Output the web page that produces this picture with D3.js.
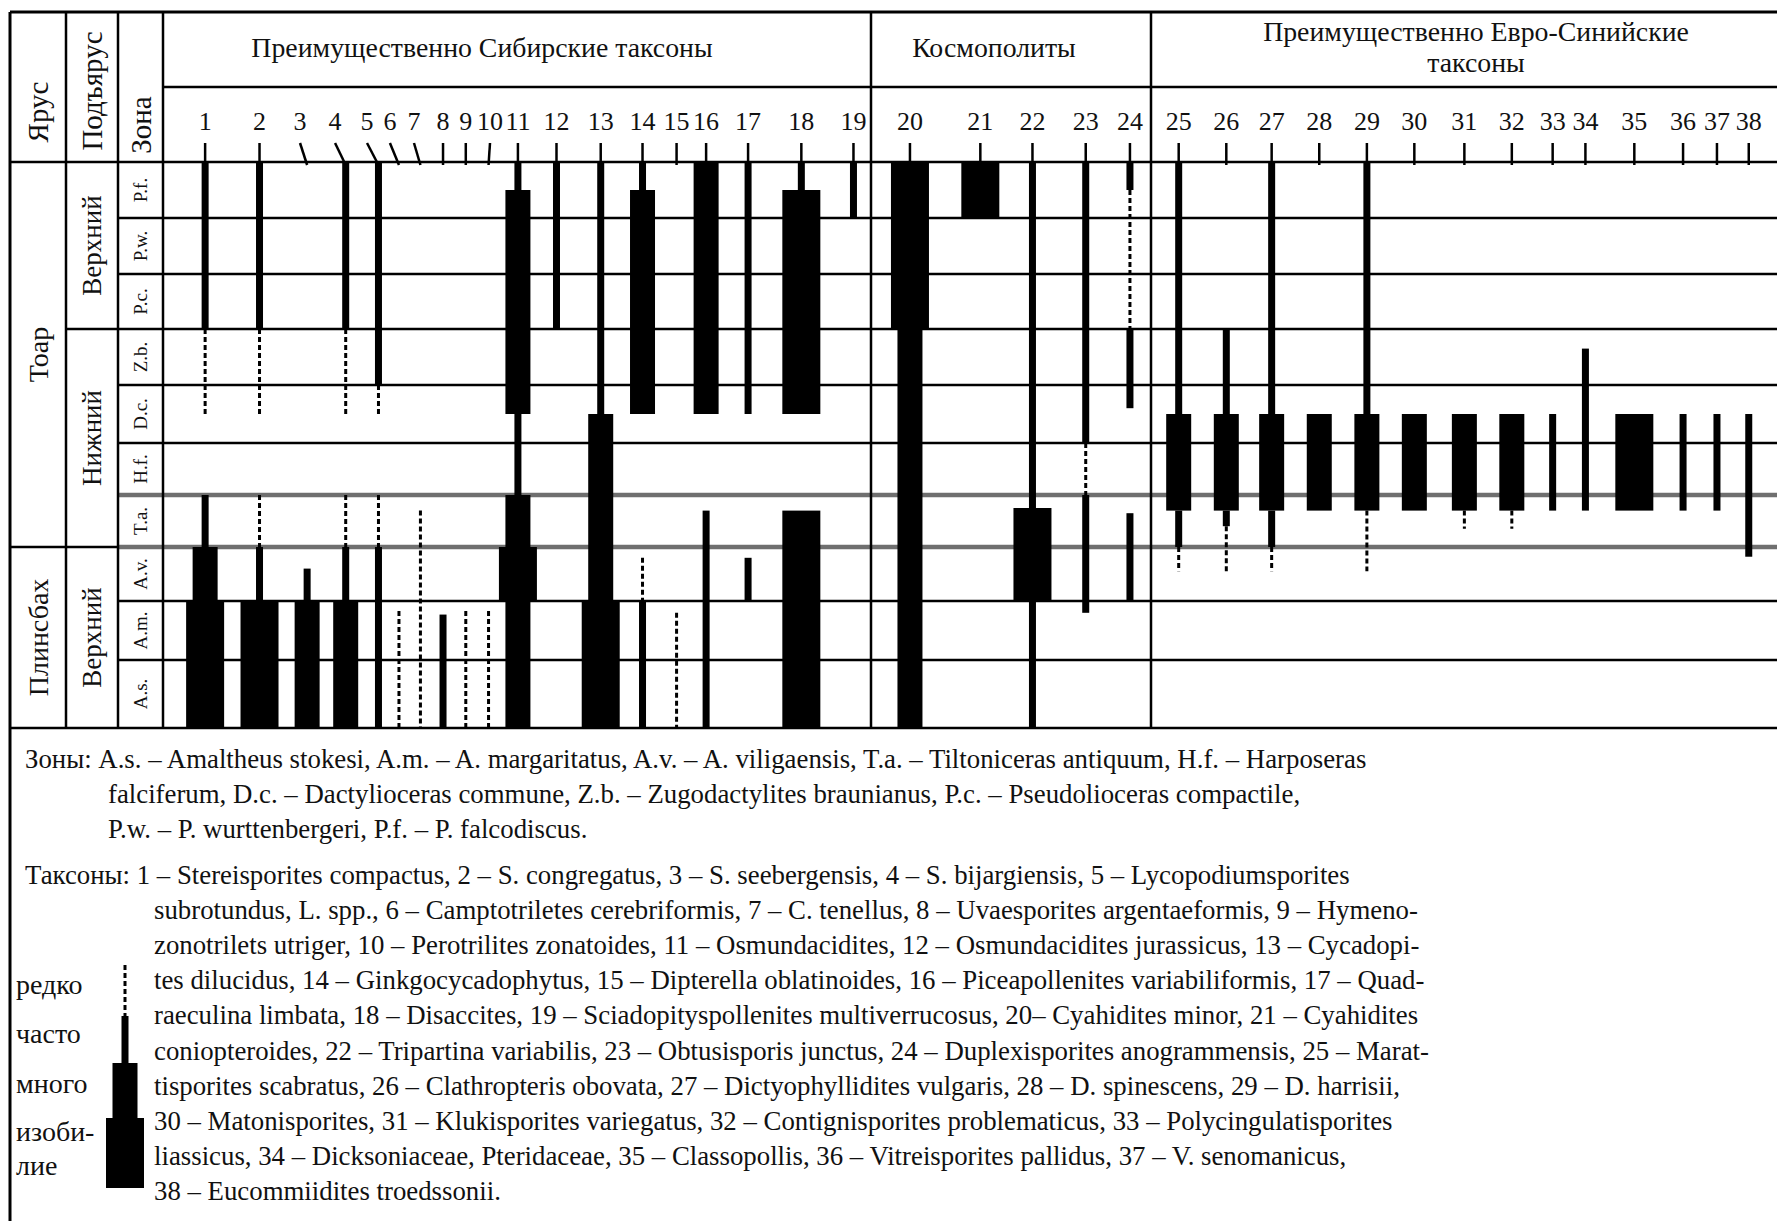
<!DOCTYPE html>
<html><head><meta charset="utf-8">
<script src="https://cdn.jsdelivr.net/npm/d3@7"></script>
<style>
body{margin:0;background:#fff}
svg{display:block;font-family:"Liberation Serif","Times New Roman",serif}
</style>
</head><body><div id="chart"></div>
<script>
// ---------------- DATA ----------------
const zones = ["P.f.","P.w.","P.c.","Z.b.","D.c.","H.f.","T.a.","A.v.","A.m.","A.s."];
const stages = [{name:"Тоар", from:0, to:7},{name:"Плинсбах", from:7, to:10}];
const substages = [{name:"Верхний", from:0, to:3},{name:"Нижний", from:3, to:7},{name:"Верхний", from:7, to:10}];
const headerLabels = ["Ярус","Подъярус","Зона"];
const taxonLabels = d3.range(1, 39).map(String);
// horizontal column of each taxon, in percent of the chart width
const taxonColumn = [2.61,5.98,8.93,11.32,13.35,14.62,15.95,17.35,18.76,20.17,
  21.99,24.38,27.12,29.71,31.82,33.65,36.25,39.55,42.78,
  46.28,50.64,53.87,57.17,59.91,
  62.93,65.88,68.69,71.64,74.59,77.53,80.63,83.57,86.10,88.13,91.16,94.18,96.28,98.25];
// column of the number label (slanted leaders for 3–7 and 10)
const taxonLabelColumn = taxonColumn.map((c, i) => ({2:8.49,3:10.66,4:12.64,5:14.06,6:15.55,9:20.26})[i] ?? c);
const groups = [
  {lines:["Преимущественно Сибирские таксоны"], first:1, last:19},
  {lines:["Космополиты"], first:20, last:24},
  {lines:["Преимущественно Евро-Синийские","таксоны"], first:25, last:38}
];
// abundance levels: r – редко, o – часто, m – много, a – изобилие
const levels = [{key:"r", label:["редко"]},{key:"o", label:["часто"]},{key:"m", label:["много"]},{key:"a", label:["изоби-","лие"]}];
// occurrence ranges per taxon: [from zone-edge, to zone-edge, level] (0 = top of P.f., 10 = base of A.s.)
const ranges = [
  [[0,3,"o"],[3,4.5,"r"],[6,7,"o"],[7,8,"m"],[8,10,"a"]],
  [[0,3,"o"],[3,4.5,"r"],[6,7,"r"],[7,8,"o"],[8,10,"a"]],
  [[7.4,8,"o"],[8,10,"m"]],
  [[0,3,"o"],[3,4.5,"r"],[6,7,"r"],[7,8,"o"],[8,10,"m"]],
  [[0,4,"o"],[4,4.5,"r"],[6,7,"r"],[7,10,"o"]],
  [[8.17,10,"r"]],
  [[6.3,10,"r"]],
  [[8.23,10,"o"]],
  [[8.17,10,"r"]],
  [[8.17,10,"r"]],
  [[0,0.5,"o"],[0.5,4.5,"m"],[4.5,6,"o"],[6,7,"m"],[7,8,"a"],[8,10,"m"]],
  [[0,3,"o"]],
  [[0,4.5,"o"],[4.5,8,"m"],[8,10,"a"]],
  [[0,0.5,"o"],[0.5,4.5,"m"],[7.2,8,"r"],[8,10,"o"]],
  [[8.2,10,"r"]],
  [[0,4.5,"m"],[6.3,10,"o"]],
  [[0,4.5,"o"],[7.2,8,"o"]],
  [[0,0.5,"o"],[0.5,4.5,"a"],[6.3,10,"a"]],
  [[0,1,"o"]],
  [[0,3,"a"],[3,10,"m"]],
  [[0,1,"a"]],
  [[0,6.25,"o"],[6.25,8,"a"],[8,10,"o"]],
  [[0,5,"o"],[5,6,"r"],[6,8.2,"o"]],
  [[0,0.5,"o"],[0.5,3,"r"],[3,4.4,"o"],[6.35,8,"o"]],
  [[0,4.5,"o"],[4.5,6.3,"m"],[6.3,7,"o"],[7,7.45,"r"]],
  [[3,4.5,"o"],[4.5,6.3,"m"],[6.3,6.6,"o"],[6.6,7.45,"r"]],
  [[0,4.5,"o"],[4.5,6.3,"m"],[6.3,7,"o"],[7,7.45,"r"]],
  [[4.5,6.3,"m"]],
  [[0,4.5,"o"],[4.5,6.3,"m"],[6.3,7.45,"r"]],
  [[4.5,6.3,"m"]],
  [[4.5,6.3,"m"],[6.3,6.65,"r"]],
  [[4.5,6.3,"m"],[6.3,6.65,"r"]],
  [[4.5,6.3,"o"]],
  [[3.35,6.3,"o"]],
  [[4.5,6.3,"a"]],
  [[4.5,6.3,"o"]],
  [[4.5,6.3,"o"]],
  [[4.5,7.18,"o"]]
];
const zoneNoteLines = [
  "Зоны: A.s. – Amaltheus stokesi, A.m. – A. margaritatus, A.v. – A. viligaensis, T.a. – Tiltoniceras antiquum, H.f. – Harposeras",
  "falciferum, D.c. – Dactylioceras commune, Z.b. – Zugodactylites braunianus, P.c. – Pseudolioceras compactile,",
  "P.w. – P. wurttenbergeri, P.f. – P. falcodiscus."
];
const taxaNoteLines = [
  "Таксоны: 1 – Stereisporites compactus, 2 – S. congregatus, 3 – S. seebergensis, 4 – S. bijargiensis, 5 – Lycopodiumsporites",
  "subrotundus, L. spp., 6 – Camptotriletes cerebriformis, 7 – C. tenellus, 8 – Uvaesporites argentaeformis, 9 – Hymeno-",
  "zonotrilets utriger, 10 – Perotrilites zonatoides, 11 – Osmundacidites, 12 – Osmundacidites jurassicus, 13 – Cycadopi-",
  "tes dilucidus, 14 – Ginkgocycadophytus, 15 – Dipterella oblatinoides, 16 – Piceapollenites variabiliformis, 17 – Quad-",
  "raeculina limbata, 18 – Disaccites, 19 – Sciadopityspollenites multiverrucosus, 20– Cyahidites minor, 21 – Cyahidites",
  "coniopteroides, 22 – Tripartina variabilis, 23 – Obtusisporis junctus, 24 – Duplexisporites anogrammensis, 25 – Marat-",
  "tisporites scabratus, 26 – Clathropteris obovata, 27 – Dictyophyllidites vulgaris, 28 – D. spinescens, 29 – D. harrisii,",
  "30 – Matonisporites, 31 – Klukisporites variegatus, 32 – Contignisporites problematicus, 33 – Polycingulatisporites",
  "liassicus, 34 – Dicksoniaceae, Pteridaceae, 35 – Classopollis, 36 – Vitreisporites pallidus, 37 – V. senomanicus,",
  "38 – Eucommiidites troedssonii."
];

// ---------------- LAYOUT ----------------
const W = 1777, H = 1221;
const frameL = 10, frameT = 12;
const colEdges = [10, 66, 118, 163];          // Ярус | Подъярус | Зона | chart
const headMid = 87, dataTop = 162;
const rowEdges = [162, 218, 274, 329, 385, 443, 495, 547, 601, 660, 728];
const groupDividers = [871, 1151];
const groupTitleX = [482, 994, 1476];
const grayEdges = [6, 7];
const levelWidth = {o:7, m:25, a:38};

const svg = d3.select("#chart").append("svg").attr("width", W).attr("height", H).attr("viewBox", `0 0 ${W} ${H}`);
svg.append("rect").attr("width", W).attr("height", H).attr("fill", "#fff");

const x = d3.scaleLinear().domain([0, 100]).range([colEdges[3], W]);
const y = d3.scaleLinear().domain(d3.range(11)).range(rowEdges);
const bottom = rowEdges[10];

const grid = svg.append("g").attr("stroke", "#000").attr("stroke-width", 2.5).attr("fill", "none");
const hline = (x1, x2, yy, w, c) => grid.append("line").attr("x1", x1).attr("x2", x2).attr("y1", yy).attr("y2", yy)
  .attr("stroke-width", w || 2.5).attr("stroke", c || "#000");
const vline = (xx, y1, y2, w) => grid.append("line").attr("x1", xx).attr("x2", xx).attr("y1", y1).attr("y2", y2).attr("stroke-width", w || 2.5);

// zone boundaries
d3.range(1, 10).forEach(i => {
  const isStage = stages.some(s => s.from === i);
  const isSub = substages.some(s => s.from === i);
  const x0 = isStage ? colEdges[0] : isSub ? colEdges[1] : colEdges[2];
  if (grayEdges.includes(i)) {
    if (x0 < colEdges[2]) hline(x0, colEdges[2], y(i));
    hline(colEdges[2], W, y(i), 4.5, "#6f6f6f");
  } else hline(x0, W, y(i));
});
hline(frameL, W, frameT, 3);
hline(colEdges[3], W, headMid);
hline(frameL, W, dataTop);
hline(frameL, W, bottom);
vline(frameL, frameT, H, 3);
colEdges.slice(1).forEach(c => vline(c, frameT, bottom));
groupDividers.forEach(c => vline(c, frameT, bottom));

// header texts
const txt = svg.append("g").attr("fill", "#111");
const headerCx = [38, 92, 140.5], headerCy = [112, 91, 125];
headerLabels.forEach((t, i) => {
  txt.append("text").attr("transform", `translate(${headerCx[i]},${headerCy[i]}) rotate(-90)`)
    .attr("text-anchor", "middle").attr("dominant-baseline", "central").attr("font-size", 29).text(t);
});
groups.forEach((g, i) => {
  const ys = g.lines.length === 1 ? [57] : [41, 72];
  g.lines.forEach((l, j) => txt.append("text").attr("x", groupTitleX[i]).attr("y", ys[j])
    .attr("text-anchor", "middle").attr("font-size", 27.8).text(l));
});
// stage / substage / zone labels
stages.forEach(s => txt.append("text").attr("transform", `translate(${(colEdges[0]+colEdges[1])/2},${(y(s.from)+y(s.to))/2}) rotate(-90)`)
  .attr("text-anchor", "middle").attr("dominant-baseline", "central").attr("font-size", 28).text(s.name));
substages.forEach(s => txt.append("text").attr("transform", `translate(${(colEdges[1]+colEdges[2])/2},${(y(s.from)+y(s.to))/2}) rotate(-90)`)
  .attr("text-anchor", "middle").attr("dominant-baseline", "central").attr("font-size", 27).text(s.name));
zones.forEach((z, i) => txt.append("text").attr("transform", `translate(${(colEdges[2]+colEdges[3])/2},${(y(i)+y(i+1))/2}) rotate(-90)`)
  .attr("text-anchor", "middle").attr("dominant-baseline", "central").attr("font-size", 19).text(z));

// taxon numbers and leader ticks
taxonLabels.forEach((t, i) => {
  txt.append("text").attr("x", x(taxonLabelColumn[i])).attr("y", 130).attr("text-anchor", "middle").attr("font-size", 26).text(t);
  svg.append("line").attr("x1", x(taxonLabelColumn[i])).attr("y1", 143).attr("x2", x(taxonColumn[i])).attr("y2", 165)
    .attr("stroke", "#000").attr("stroke-width", 2.5);
});

// range bars
const bars = svg.append("g");
ranges.forEach((segs, i) => {
  const cx = x(taxonColumn[i]);
  segs.forEach(([a, b, lv]) => {
    if (lv === "r") {
      bars.append("line").attr("x1", cx).attr("x2", cx).attr("y1", y(a)).attr("y2", y(b))
        .attr("stroke", "#000").attr("stroke-width", 3).attr("stroke-dasharray", "5,3");
    } else {
      const w = levelWidth[lv];
      bars.append("rect").attr("x", cx - w/2).attr("y", y(a)).attr("width", w).attr("height", y(b) - y(a)).attr("fill", "#000");
    }
  });
});

// notes
const noteSize = 26.8;
zoneNoteLines.forEach((l, i) => txt.append("text").attr("x", i === 0 ? 25 : 108).attr("y", 768 + i*35)
  .attr("font-size", noteSize).text(l));
taxaNoteLines.forEach((l, i) => txt.append("text").attr("x", i === 0 ? 25 : 154).attr("y", 884 + i*35.1)
  .attr("font-size", noteSize).text(l));

// legend
const legX = 125;
const legY = d3.scaleOrdinal().domain(levels.map(d => d.key)).range([[965,1016],[1016,1063],[1063,1118],[1118,1188]]);
const legLabelY = [[994],[1043],[1093],[1141,1175]];
levels.forEach((lv, i) => {
  const [a, b] = legY(lv.key);
  if (lv.key === "r") {
    svg.append("line").attr("x1", legX).attr("x2", legX).attr("y1", a).attr("y2", b)
      .attr("stroke", "#000").attr("stroke-width", 3).attr("stroke-dasharray", "5,3");
  } else {
    const w = levelWidth[lv.key];
    svg.append("rect").attr("x", legX - w/2).attr("y", a).attr("width", w).attr("height", b - a).attr("fill", "#000");
  }
  lv.label.forEach((t, j) => txt.append("text").attr("x", 16).attr("y", legLabelY[i][j]).attr("font-size", 28).text(t));
});
</script>
</body></html>
